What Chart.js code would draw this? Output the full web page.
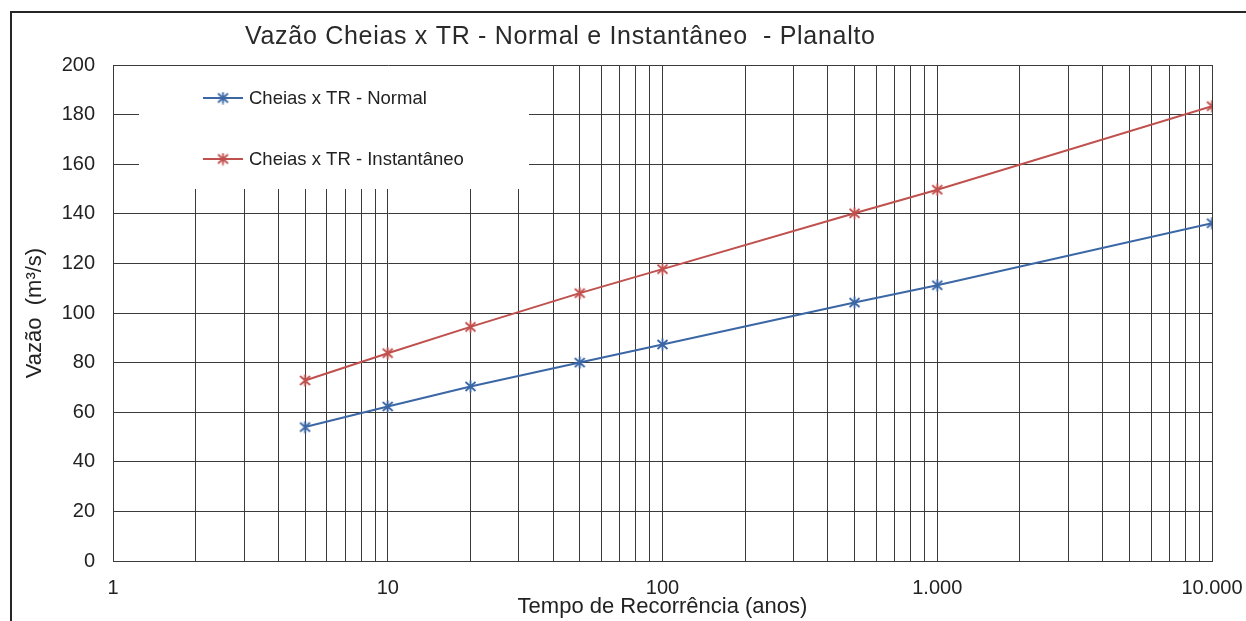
<!DOCTYPE html>
<html lang="pt-BR">
<head>
<meta charset="utf-8">
<title>Vazão Cheias x TR - Planalto</title>
<script src="https://cdn.jsdelivr.net/npm/chart.js@4.4.1/dist/chart.umd.min.js"></script>
<style>
  html, body { margin: 0; padding: 0; background: #ffffff; }
  #wrap { width: 1246px; height: 621px; }
</style>
</head>
<body>
<div id="wrap"><canvas id="grafico" width="1246" height="621"></canvas></div>
<script>
// Tempo de recorrência (anos) e vazões de cheia (m³/s)
const tempoRecorrencia = [5, 10, 20, 50, 100, 500, 1000, 10000];
const vazaoNormal      = [54.0, 62.3, 70.4, 80.0, 87.3, 104.2, 111.2, 136.2];
const vazaoInstantaneo = [72.8, 83.8, 94.4, 108.0, 117.7, 140.2, 149.7, 183.4];

const nomesSeries = ['Cheias x TR - Normal', 'Cheias x TR - Instantâneo'];
const tituloGrafico = 'Vazão Cheias x TR - Normal e Instantâneo  - Planalto';
const tituloEixoX = 'Tempo de Recorrência (anos)';
const tituloEixoY = 'Vazão  (m³/s)';

// Rótulos das décadas do eixo logarítmico
const decadas = [1, 10, 100, 1000, 10000];
const rotulosDecadas = ['1', '10', '100', '1.000', '10.000'];

const FONTE = "'Liberation Sans', Arial, Helvetica, sans-serif";
const AZUL = '#3b67a6';
const VERMELHO = '#c0504d';
const COR_GRADE = '#3a3a3a';
const COR_TEXTO = '#222222';

// Linhas verticais da grade: 1..9 em cada década
const gradeX = [];
for (let d = 0; d < decadas.length - 1; d++) {
  for (let m = 1; m <= 9; m++) gradeX.push(decadas[d] * m);
}
gradeX.push(decadas[decadas.length - 1]);

// Marcador em asterisco (X com traço vertical)
function asterisco(cor) {
  const c = document.createElement('canvas');
  c.width = 13; c.height = 13;
  const g = c.getContext('2d');
  g.strokeStyle = cor;
  g.lineWidth = 1.8;
  g.lineCap = 'butt';
  g.beginPath();
  g.moveTo(1.5, 2); g.lineTo(11.5, 11);
  g.moveTo(11.5, 2); g.lineTo(1.5, 11);
  g.moveTo(6.5, 0.5); g.lineTo(6.5, 12.5);
  g.stroke();
  return c;
}
const marcadorAzul = asterisco(AZUL);
const marcadorVermelho = asterisco(VERMELHO);

function pares(xs, ys) {
  return xs.map((x, i) => ({ x: x, y: ys[i] }));
}

// Fundo branco, moldura externa e título
const moldura = {
  id: 'moldura',
  beforeDraw(chart) {
    const ctx = chart.ctx;
    ctx.save();
    ctx.fillStyle = '#ffffff';
    ctx.fillRect(0, 0, chart.width, chart.height);
    ctx.strokeStyle = '#262626';
    ctx.lineWidth = 2;
    ctx.strokeRect(11, 12, chart.width + 20, chart.height + 20);
    ctx.restore();
  },
  afterDraw(chart) {
    const ctx = chart.ctx;
    ctx.save();
    ctx.fillStyle = '#2a2a2a';
    ctx.font = '25px ' + FONTE;
    if ('letterSpacing' in ctx) ctx.letterSpacing = '0.7px';
    ctx.textAlign = 'left';
    ctx.textBaseline = 'alphabetic';
    ctx.fillText(tituloGrafico, 245, 44);
    ctx.restore();
  }
};

// Legenda com caixa branca dentro da área do gráfico
const legendaInterna = {
  id: 'legendaInterna',
  beforeDatasetsDraw(chart) {
    const ctx = chart.ctx;
    const area = chart.chartArea;
    ctx.save();
    ctx.fillStyle = '#ffffff';
    ctx.fillRect(area.left + 26, area.top + 1, 390, 123);
    const linhasY = [area.top + 33, area.top + 94];
    chart.data.datasets.forEach((ds, i) => {
      const y = linhasY[i];
      const x0 = area.left + 90;
      ctx.strokeStyle = ds.borderColor;
      ctx.lineWidth = 2;
      ctx.beginPath();
      ctx.moveTo(x0, y);
      ctx.lineTo(x0 + 40, y);
      ctx.stroke();
      const img = ds.pointStyle;
      ctx.drawImage(img, x0 + 20 - img.width / 2, y - img.height / 2);
      ctx.fillStyle = COR_TEXTO;
      ctx.font = '18.5px ' + FONTE;
      ctx.textAlign = 'left';
      ctx.textBaseline = 'middle';
      ctx.fillText(ds.label, x0 + 46, y + 1);
    });
    ctx.restore();
  }
};

Chart.defaults.font.family = FONTE;
Chart.defaults.color = COR_TEXTO;

new Chart(document.getElementById('grafico'), {
  type: 'line',
  data: {
    datasets: [
      {
        label: nomesSeries[0],
        data: pares(tempoRecorrencia, vazaoNormal),
        borderColor: AZUL,
        backgroundColor: AZUL,
        borderWidth: 2,
        pointStyle: marcadorAzul,
        pointRadius: 6,
        tension: 0
      },
      {
        label: nomesSeries[1],
        data: pares(tempoRecorrencia, vazaoInstantaneo),
        borderColor: VERMELHO,
        backgroundColor: VERMELHO,
        borderWidth: 2,
        pointStyle: marcadorVermelho,
        pointRadius: 6,
        tension: 0
      }
    ]
  },
  options: {
    responsive: false,
    devicePixelRatio: 1,
    animation: false,
    layout: { padding: { top: 65, left: 0, right: 0, bottom: 0 } },
    plugins: {
      legend: { display: false },
      title: { display: false },
      tooltip: { enabled: false }
    },
    scales: {
      x: {
        type: 'logarithmic',
        min: 1,
        max: 10000,
        afterBuildTicks(scale) {
          scale.ticks = gradeX.map(v => ({ value: v, major: decadas.includes(v) }));
        },
        afterFit(scale) {
          scale.height = 60;
          scale.paddingLeft = 0;
          scale.paddingRight = 34;
        },
        ticks: {
          autoSkip: false,
          maxRotation: 0,
          minRotation: 0,
          padding: 15,
          font: { size: 20 },
          color: COR_TEXTO,
          callback(value) {
            const k = decadas.indexOf(value);
            return k >= 0 ? rotulosDecadas[k] : '';
          }
        },
        grid: { color: COR_GRADE, lineWidth: 1, drawTicks: false },
        border: { color: COR_GRADE, width: 1 },
        title: {
          display: true,
          text: tituloEixoX,
          font: { size: 22 },
          color: COR_TEXTO,
          padding: { top: 0, bottom: 1 }
        }
      },
      y: {
        type: 'linear',
        min: 0,
        max: 200,
        afterFit(scale) { scale.width = 113; },
        ticks: {
          stepSize: 20,
          padding: 18,
          font: { size: 20 },
          color: COR_TEXTO
        },
        grid: { color: COR_GRADE, lineWidth: 1, drawTicks: false },
        border: { color: COR_GRADE, width: 1 },
        title: {
          display: true,
          text: tituloEixoY,
          font: { size: 22 },
          color: COR_TEXTO,
          padding: { top: 22, bottom: 0 }
        }
      }
    }
  },
  plugins: [moldura, legendaInterna]
});
</script>
</body>
</html>
